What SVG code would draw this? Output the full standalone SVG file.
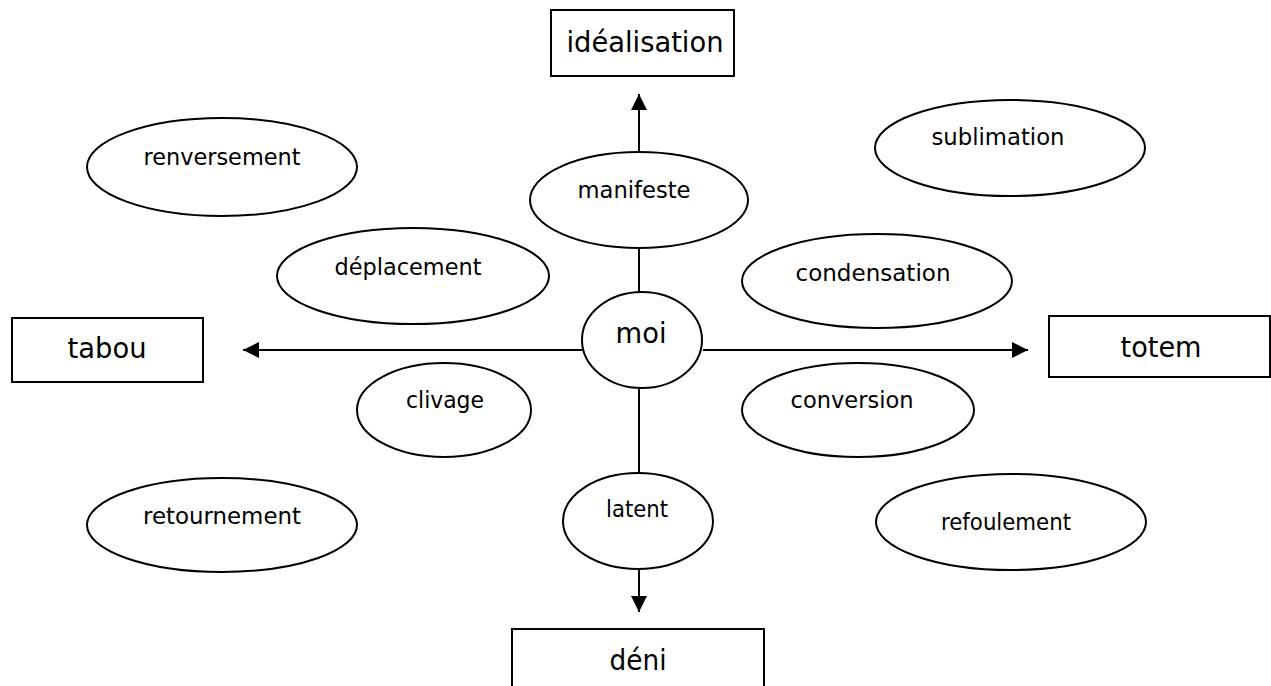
<svg xmlns="http://www.w3.org/2000/svg" width="1271" height="686" viewBox="0 0 1271 686">
  <defs>
    <style>
      .box { fill: #fff; stroke: #000; stroke-width: 2; }
      .ell { fill: #fff; stroke: #000; stroke-width: 2; }
      .big { font-family: "DejaVu Sans", "Liberation Sans", sans-serif; font-size: 29px; fill: #000; text-anchor: middle; }
      .lbl { font-family: "DejaVu Sans", "Liberation Sans", sans-serif; font-size: 23.5px; fill: #000; text-anchor: middle; }
      .link { stroke: #000; stroke-width: 2; fill: none; }
    </style>
    <marker id="arrow" viewBox="0 0 10 10" refX="10" refY="5" markerWidth="8.5" markerHeight="8" markerUnits="strokeWidth" orient="auto">
      <path d="M0,0 L10,5 L0,10 z" fill="#000"/>
    </marker>
  </defs>
  <rect width="1271" height="686" fill="#fff"/>

  <!-- connectors: vertical and horizontal axes through "moi" -->
  <g id="connectors">
    <line class="link" x1="639" y1="152" x2="639" y2="94" marker-end="url(#arrow)"/>
    <line class="link" x1="639" y1="248" x2="639" y2="292"/>
    <line class="link" x1="639" y1="389" x2="639" y2="474"/>
    <line class="link" x1="639" y1="569" x2="639" y2="612" marker-end="url(#arrow)"/>
    <line class="link" x1="582" y1="350" x2="243" y2="350" marker-end="url(#arrow)"/>
    <line class="link" x1="703" y1="350" x2="1028" y2="350" marker-end="url(#arrow)"/>
  </g>

  <!-- rectangular poles -->
  <g id="idealisation">
    <rect class="box" x="551" y="10" width="183" height="66"/>
    <text class="big" x="645" y="52" textLength="157" lengthAdjust="spacingAndGlyphs">idéalisation</text>
  </g>
  <g id="tabou">
    <rect class="box" x="12" y="318" width="191" height="64"/>
    <text class="big" x="107" y="358" textLength="79" lengthAdjust="spacingAndGlyphs">tabou</text>
  </g>
  <g id="totem">
    <rect class="box" x="1049" y="316" width="221" height="61"/>
    <text class="big" x="1161" y="357" textLength="81" lengthAdjust="spacingAndGlyphs">totem</text>
  </g>
  <g id="deni">
    <rect class="box" x="512" y="629" width="252" height="70"/>
    <text class="big" x="638" y="670" textLength="57" lengthAdjust="spacingAndGlyphs">déni</text>
  </g>

  <!-- central node -->
  <g id="moi">
    <ellipse class="ell" cx="642" cy="340" rx="60" ry="48"/>
    <text class="big" x="641" y="343" textLength="51" lengthAdjust="spacingAndGlyphs">moi</text>
  </g>

  <!-- mechanism ellipses -->
  <g id="manifeste">
    <ellipse class="ell" cx="639" cy="200" rx="109" ry="48"/>
    <text class="lbl" x="634" y="198" textLength="113" lengthAdjust="spacingAndGlyphs">manifeste</text>
  </g>
  <g id="latent">
    <ellipse class="ell" cx="638" cy="521" rx="75" ry="48"/>
    <text class="lbl" x="637" y="517" textLength="62" lengthAdjust="spacingAndGlyphs">latent</text>
  </g>
  <g id="renversement">
    <ellipse class="ell" cx="222" cy="167" rx="135" ry="49"/>
    <text class="lbl" x="222" y="165" textLength="157" lengthAdjust="spacingAndGlyphs">renversement</text>
  </g>
  <g id="sublimation">
    <ellipse class="ell" cx="1010" cy="148" rx="135" ry="48"/>
    <text class="lbl" x="998" y="145" textLength="133" lengthAdjust="spacingAndGlyphs">sublimation</text>
  </g>
  <g id="deplacement">
    <ellipse class="ell" cx="413" cy="276" rx="136" ry="48"/>
    <text class="lbl" x="408" y="275" textLength="147" lengthAdjust="spacingAndGlyphs">déplacement</text>
  </g>
  <g id="condensation">
    <ellipse class="ell" cx="877" cy="281" rx="135" ry="47"/>
    <text class="lbl" x="873" y="281" textLength="155" lengthAdjust="spacingAndGlyphs">condensation</text>
  </g>
  <g id="clivage">
    <ellipse class="ell" cx="444" cy="410" rx="87" ry="47"/>
    <text class="lbl" x="445" y="408" textLength="78" lengthAdjust="spacingAndGlyphs">clivage</text>
  </g>
  <g id="conversion">
    <ellipse class="ell" cx="858" cy="410" rx="116" ry="47"/>
    <text class="lbl" x="852" y="408" textLength="123" lengthAdjust="spacingAndGlyphs">conversion</text>
  </g>
  <g id="retournement">
    <ellipse class="ell" cx="222" cy="525" rx="135" ry="47"/>
    <text class="lbl" x="222" y="524" textLength="158" lengthAdjust="spacingAndGlyphs">retournement</text>
  </g>
  <g id="refoulement">
    <ellipse class="ell" cx="1011" cy="522" rx="135" ry="48"/>
    <text class="lbl" x="1006" y="530" textLength="130" lengthAdjust="spacingAndGlyphs">refoulement</text>
  </g>
</svg>
